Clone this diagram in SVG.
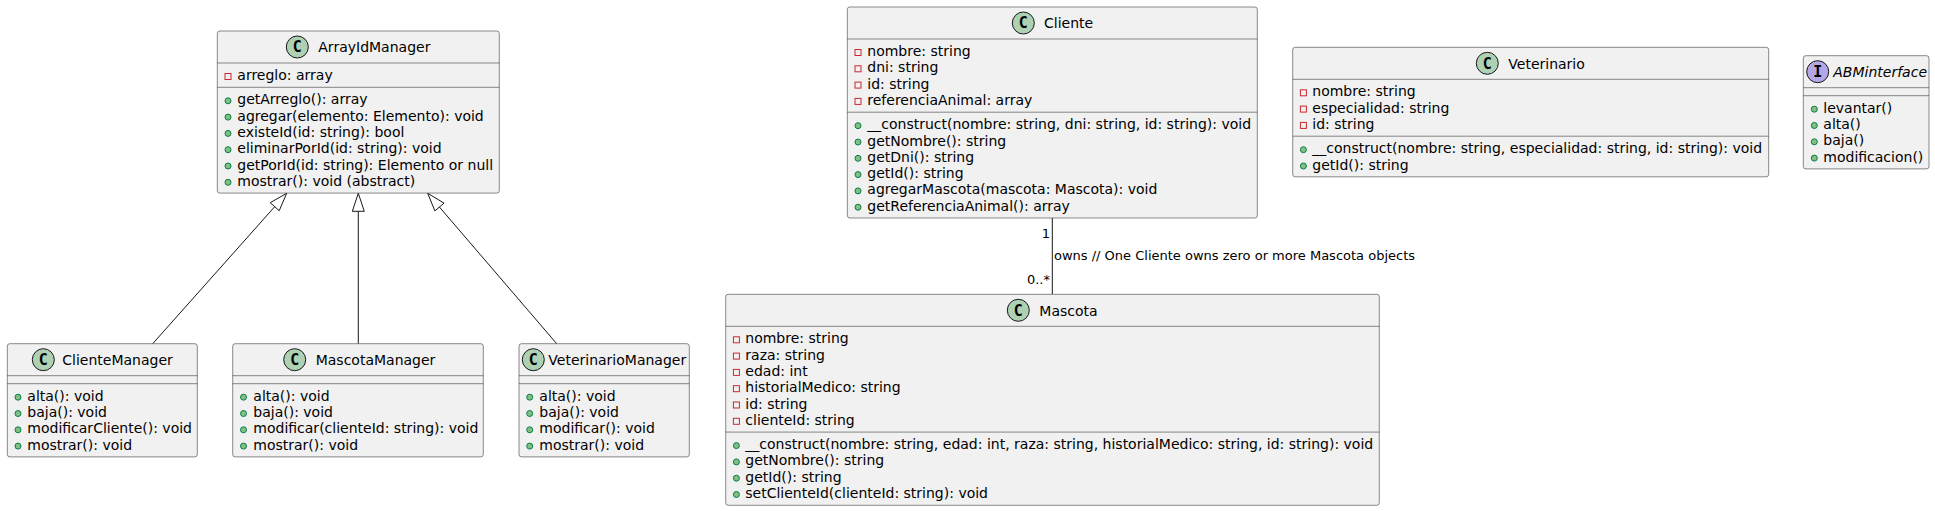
<svg xmlns="http://www.w3.org/2000/svg" width="1935" height="511" viewBox="0 0 1935 511">
<style>
.box{fill:#F1F1F1;stroke:#181818;stroke-width:0.5}
.div{stroke:#181818;stroke-width:0.5}
.cc{fill:#ADD1B2;stroke:#181818;stroke-width:1}
.ic{fill:#B4A7E5;stroke:#181818;stroke-width:1}
.gl{font-family:"DejaVu Sans Mono",monospace;font-weight:bold;font-size:15px;text-anchor:middle;fill:#000}
.nm{font-family:"DejaVu Sans",sans-serif;font-size:14px;fill:#000}
.t{font-family:"DejaVu Sans",sans-serif;font-size:14px;fill:#000}
.lb{font-family:"DejaVu Sans",sans-serif;font-size:13px;fill:#000}
.pv{fill:none;stroke:#C82930;stroke-width:1}
.pb{fill:#84BE84;stroke:#038048;stroke-width:1}
.ln{stroke:#181818;stroke-width:1;fill:none}
.tri{fill:none;stroke:#181818;stroke-width:1}
</style>

<g id="connectors">
<line class="ln" x1="152.7" y1="343.7" x2="274.7" y2="206.7"/>
<polygon class="tri" points="286.7,193.3 279.2,210.7 270.2,202.7"/>
<line class="ln" x1="358.3" y1="343.7" x2="358.3" y2="211.3"/>
<polygon class="tri" points="358.3,193.3 364.3,211.3 352.3,211.3"/>
<line class="ln" x1="556.7" y1="343.7" x2="439.4" y2="207"/>
<polygon class="tri" points="427.7,193.3 444,203.1 434.9,210.9"/>
<line class="ln" x1="1052.3" y1="218" x2="1052.3" y2="294.3"/>
<text class="lb" x="1050" y="237.5" text-anchor="end">1</text>
<text class="lb" x="1054" y="260">owns // One Cliente owns zero or more Mascota objects</text>
<text class="lb" x="1050" y="284" text-anchor="end">0..*</text>
</g>

<g id="ArrayIdManager">
<rect class="box" x="217.3" y="31" width="282" height="162.1" rx="2.5"/>
<circle class="cc" cx="297.3" cy="47" r="11"/>
<text class="gl" x="297.3" y="52.3">C</text>
<text class="nm" x="318.3" y="52.3">ArrayIdManager</text>
<line class="div" x1="217.3" y1="63" x2="499.3" y2="63"/>
<rect class="pv" x="225" y="73.5" width="6" height="6"/>
<text class="t" x="237.3" y="80">arreglo: array</text>
<line class="div" x1="217.3" y1="87.3" x2="499.3" y2="87.3"/>
<circle class="pb" cx="228" cy="100.8" r="3"/><text class="t" x="237.3" y="104.3">getArreglo(): array</text>
<circle class="pb" cx="228" cy="117.1" r="3"/><text class="t" x="237.3" y="120.6">agregar(elemento: Elemento): void</text>
<circle class="pb" cx="228" cy="133.4" r="3"/><text class="t" x="237.3" y="136.9">existeId(id: string): bool</text>
<circle class="pb" cx="228" cy="149.7" r="3"/><text class="t" x="237.3" y="153.2">eliminarPorId(id: string): void</text>
<circle class="pb" cx="228" cy="166" r="3"/><text class="t" x="237.3" y="169.5">getPorId(id: string): Elemento or null</text>
<circle class="pb" cx="228" cy="182.3" r="3"/><text class="t" x="237.3" y="185.8">mostrar(): void (abstract)</text>
</g>

<g id="ClienteManager">
<rect class="box" x="7.3" y="343.7" width="190" height="113.2" rx="2.5"/>
<circle class="cc" cx="43.3" cy="359.7" r="11"/>
<text class="gl" x="43.3" y="365">C</text>
<text class="nm" x="62.3" y="365">ClienteManager</text>
<line class="div" x1="7.3" y1="375.7" x2="197.3" y2="375.7"/>
<line class="div" x1="7.3" y1="383.7" x2="197.3" y2="383.7"/>
<circle class="pb" cx="18" cy="397.2" r="3"/><text class="t" x="27.3" y="400.7">alta(): void</text>
<circle class="pb" cx="18" cy="413.5" r="3"/><text class="t" x="27.3" y="417">baja(): void</text>
<circle class="pb" cx="18" cy="429.8" r="3"/><text class="t" x="27.3" y="433.3">modificarCliente(): void</text>
<circle class="pb" cx="18" cy="446.1" r="3"/><text class="t" x="27.3" y="449.6">mostrar(): void</text>
</g>

<g id="MascotaManager">
<rect class="box" x="232.7" y="343.7" width="250.6" height="113.2" rx="2.5"/>
<circle class="cc" cx="294.7" cy="359.7" r="11"/>
<text class="gl" x="294.7" y="365">C</text>
<text class="nm" x="315.7" y="365">MascotaManager</text>
<line class="div" x1="232.7" y1="375.7" x2="483.3" y2="375.7"/>
<line class="div" x1="232.7" y1="383.7" x2="483.3" y2="383.7"/>
<circle class="pb" cx="243.5" cy="397.2" r="3"/><text class="t" x="253.3" y="400.7">alta(): void</text>
<circle class="pb" cx="243.5" cy="413.5" r="3"/><text class="t" x="253.3" y="417">baja(): void</text>
<circle class="pb" cx="243.5" cy="429.8" r="3"/><text class="t" x="253.3" y="433.3">modificar(clienteId: string): void</text>
<circle class="pb" cx="243.5" cy="446.1" r="3"/><text class="t" x="253.3" y="449.6">mostrar(): void</text>
</g>

<g id="VeterinarioManager">
<rect class="box" x="519" y="343.7" width="170.3" height="113.2" rx="2.5"/>
<circle class="cc" cx="533.3" cy="359.7" r="11"/>
<text class="gl" x="533.3" y="365">C</text>
<text class="nm" x="548.3" y="365">VeterinarioManager</text>
<line class="div" x1="519" y1="375.7" x2="689.3" y2="375.7"/>
<line class="div" x1="519" y1="383.7" x2="689.3" y2="383.7"/>
<circle class="pb" cx="529.7" cy="397.2" r="3"/><text class="t" x="539.3" y="400.7">alta(): void</text>
<circle class="pb" cx="529.7" cy="413.5" r="3"/><text class="t" x="539.3" y="417">baja(): void</text>
<circle class="pb" cx="529.7" cy="429.8" r="3"/><text class="t" x="539.3" y="433.3">modificar(): void</text>
<circle class="pb" cx="529.7" cy="446.1" r="3"/><text class="t" x="539.3" y="449.6">mostrar(): void</text>
</g>

<g id="Cliente">
<rect class="box" x="847.3" y="7" width="410" height="211" rx="2.5"/>
<circle class="cc" cx="1023.3" cy="23" r="11"/>
<text class="gl" x="1023.3" y="28.3">C</text>
<text class="nm" x="1044" y="28.3">Cliente</text>
<line class="div" x1="847.3" y1="39" x2="1257.3" y2="39"/>
<rect class="pv" x="855" y="49.5" width="6" height="6"/><text class="t" x="867.3" y="56">nombre: string</text>
<rect class="pv" x="855" y="65.8" width="6" height="6"/><text class="t" x="867.3" y="72.3">dni: string</text>
<rect class="pv" x="855" y="82.1" width="6" height="6"/><text class="t" x="867.3" y="88.6">id: string</text>
<rect class="pv" x="855" y="98.4" width="6" height="6"/><text class="t" x="867.3" y="104.9">referenciaAnimal: array</text>
<line class="div" x1="847.3" y1="112.2" x2="1257.3" y2="112.2"/>
<circle class="pb" cx="858" cy="125.7" r="3"/><text class="t" x="867.3" y="129.2">__construct(nombre: string, dni: string, id: string): void</text>
<circle class="pb" cx="858" cy="142" r="3"/><text class="t" x="867.3" y="145.5">getNombre(): string</text>
<circle class="pb" cx="858" cy="158.3" r="3"/><text class="t" x="867.3" y="161.8">getDni(): string</text>
<circle class="pb" cx="858" cy="174.6" r="3"/><text class="t" x="867.3" y="178.1">getId(): string</text>
<circle class="pb" cx="858" cy="190.9" r="3"/><text class="t" x="867.3" y="194.4">agregarMascota(mascota: Mascota): void</text>
<circle class="pb" cx="858" cy="207.2" r="3"/><text class="t" x="867.3" y="210.7">getReferenciaAnimal(): array</text>
</g>

<g id="Veterinario">
<rect class="box" x="1292.7" y="47.3" width="476" height="129.5" rx="2.5"/>
<circle class="cc" cx="1487.3" cy="63.3" r="11"/>
<text class="gl" x="1487.3" y="68.6">C</text>
<text class="nm" x="1508.3" y="68.6">Veterinario</text>
<line class="div" x1="1292.7" y1="79.3" x2="1768.7" y2="79.3"/>
<rect class="pv" x="1300.4" y="89.8" width="6" height="6"/><text class="t" x="1312.3" y="96.3">nombre: string</text>
<rect class="pv" x="1300.4" y="106.1" width="6" height="6"/><text class="t" x="1312.3" y="112.6">especialidad: string</text>
<rect class="pv" x="1300.4" y="122.4" width="6" height="6"/><text class="t" x="1312.3" y="128.9">id: string</text>
<line class="div" x1="1292.7" y1="136.2" x2="1768.7" y2="136.2"/>
<circle class="pb" cx="1303.4" cy="149.7" r="3"/><text class="t" x="1312.3" y="153.2">__construct(nombre: string, especialidad: string, id: string): void</text>
<circle class="pb" cx="1303.4" cy="166" r="3"/><text class="t" x="1312.3" y="169.5">getId(): string</text>
</g>

<g id="ABMinterface">
<rect class="box" x="1803.3" y="55.7" width="125.7" height="113.2" rx="2.5"/>
<circle class="ic" cx="1817.7" cy="71.7" r="11"/>
<text class="gl" x="1817.7" y="77">I</text>
<text class="nm" x="1833.3" y="77" font-style="italic">ABMinterface</text>
<line class="div" x1="1803.3" y1="87.7" x2="1929" y2="87.7"/>
<line class="div" x1="1803.3" y1="95.7" x2="1929" y2="95.7"/>
<circle class="pb" cx="1814.3" cy="109.2" r="3"/><text class="t" x="1823.3" y="112.7">levantar()</text>
<circle class="pb" cx="1814.3" cy="125.5" r="3"/><text class="t" x="1823.3" y="129">alta()</text>
<circle class="pb" cx="1814.3" cy="141.8" r="3"/><text class="t" x="1823.3" y="145.3">baja()</text>
<circle class="pb" cx="1814.3" cy="158.1" r="3"/><text class="t" x="1823.3" y="161.6">modificacion()</text>
</g>

<g id="Mascota">
<rect class="box" x="725.7" y="294.3" width="653.6" height="211" rx="2.5"/>
<circle class="cc" cx="1018.3" cy="310.3" r="11"/>
<text class="gl" x="1018.3" y="315.6">C</text>
<text class="nm" x="1039.3" y="315.6">Mascota</text>
<line class="div" x1="725.7" y1="326.3" x2="1379.3" y2="326.3"/>
<rect class="pv" x="733.4" y="336.8" width="6" height="6"/><text class="t" x="745.3" y="343.3">nombre: string</text>
<rect class="pv" x="733.4" y="353.1" width="6" height="6"/><text class="t" x="745.3" y="359.6">raza: string</text>
<rect class="pv" x="733.4" y="369.4" width="6" height="6"/><text class="t" x="745.3" y="375.9">edad: int</text>
<rect class="pv" x="733.4" y="385.7" width="6" height="6"/><text class="t" x="745.3" y="392.2">historialMedico: string</text>
<rect class="pv" x="733.4" y="402" width="6" height="6"/><text class="t" x="745.3" y="408.5">id: string</text>
<rect class="pv" x="733.4" y="418.3" width="6" height="6"/><text class="t" x="745.3" y="424.8">clienteId: string</text>
<line class="div" x1="725.7" y1="432.1" x2="1379.3" y2="432.1"/>
<circle class="pb" cx="736.4" cy="445.6" r="3"/><text class="t" x="745.3" y="449.1">__construct(nombre: string, edad: int, raza: string, historialMedico: string, id: string): void</text>
<circle class="pb" cx="736.4" cy="461.9" r="3"/><text class="t" x="745.3" y="465.4">getNombre(): string</text>
<circle class="pb" cx="736.4" cy="478.2" r="3"/><text class="t" x="745.3" y="481.7">getId(): string</text>
<circle class="pb" cx="736.4" cy="494.5" r="3"/><text class="t" x="745.3" y="498">setClienteId(clienteId: string): void</text>
</g>
</svg>
